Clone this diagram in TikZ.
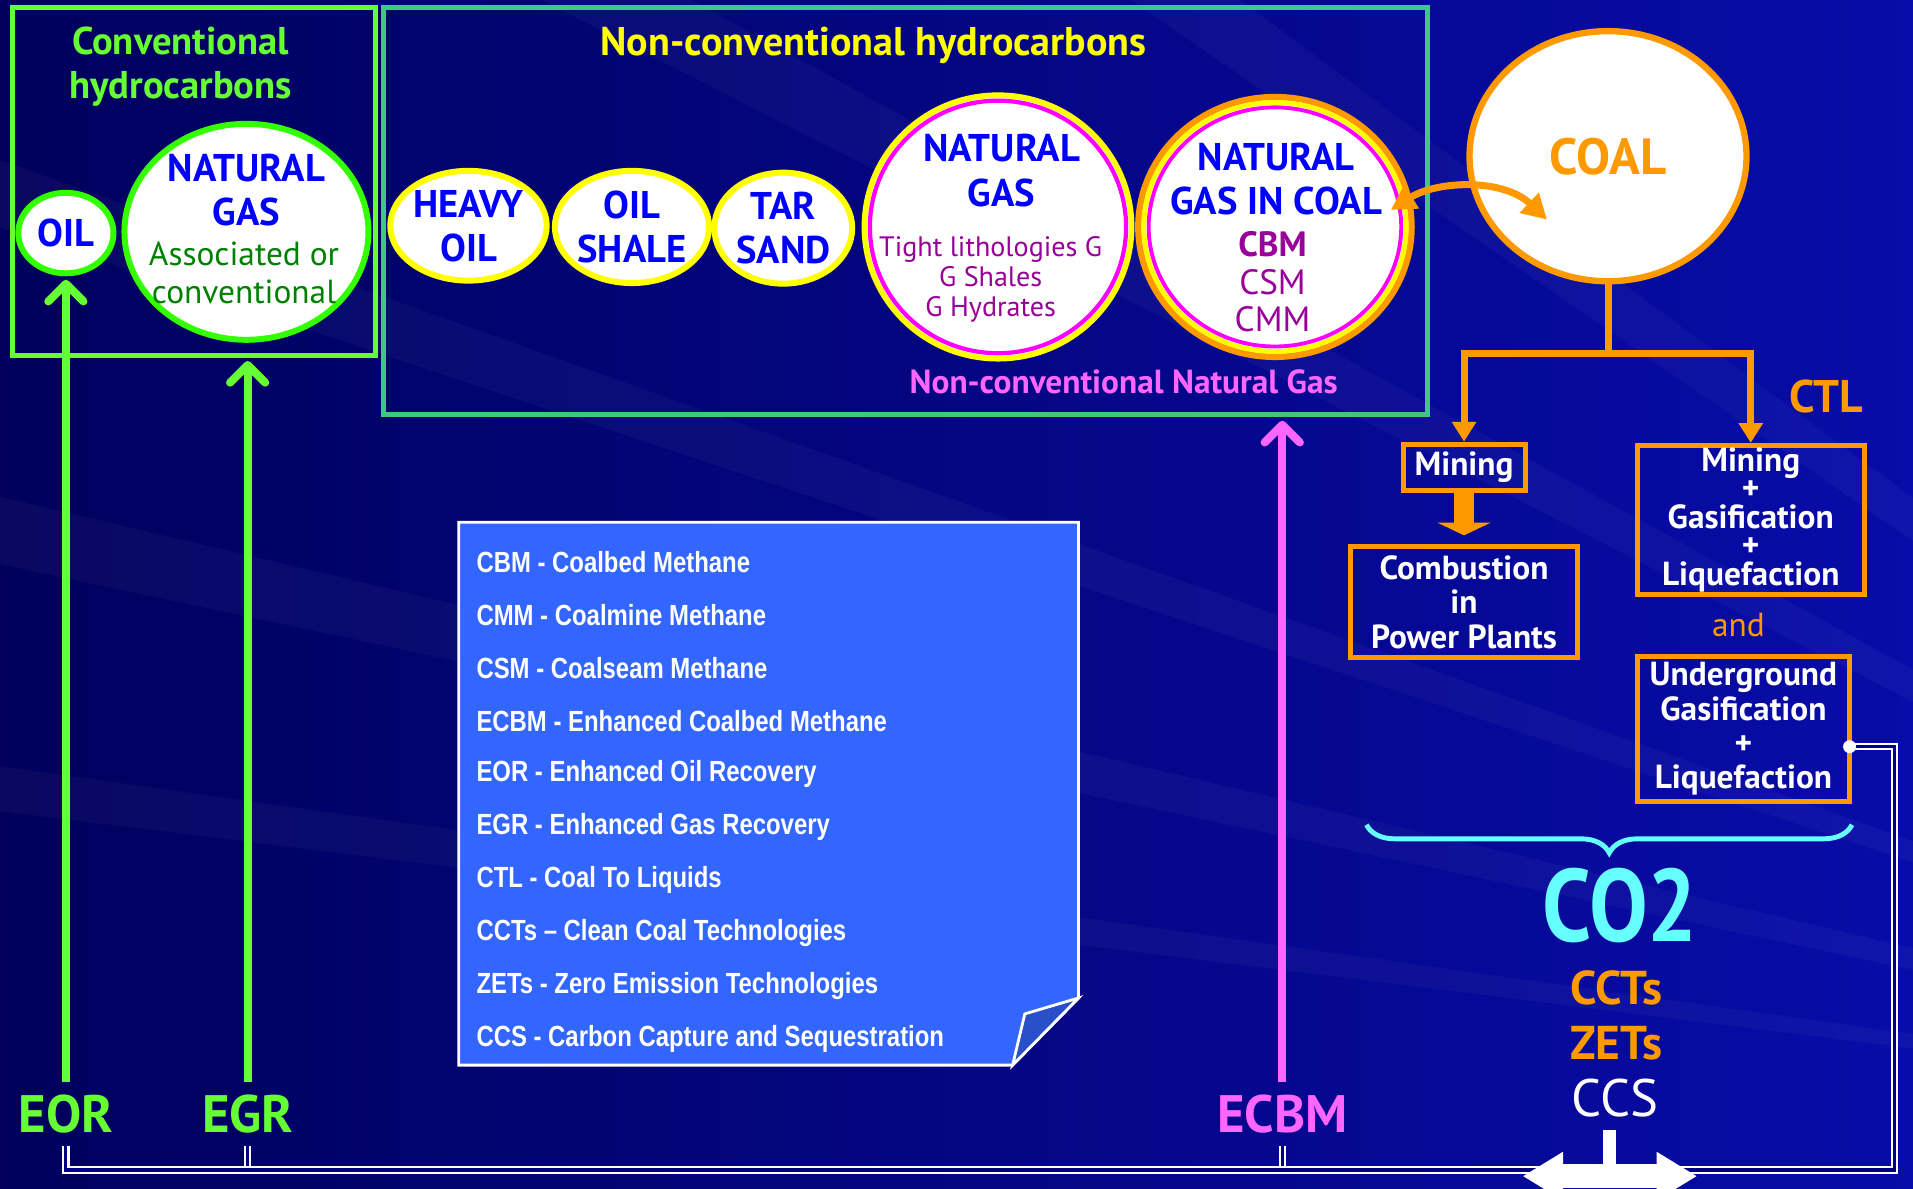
\documentclass[tikz,border=0pt]{standalone}
\usepackage{fontspec}
\setmainfont{PT Sans}
\newfontfamily\notefont{Liberation Sans}[FakeStretch=0.82]
\usepackage{tikz}
\usetikzlibrary{positioning,arrows.meta,shapes.geometric,decorations.pathreplacing}

\definecolor{bgdark}{RGB}{0,0,92}
\definecolor{bgmid}{RGB}{0,0,128}
\definecolor{bglight}{RGB}{8,12,168}
\definecolor{convgreen}{RGB}{102,255,51}
\definecolor{ringgreen}{RGB}{51,255,0}
\definecolor{boxgreen}{RGB}{64,200,128}
\definecolor{hcyellow}{RGB}{255,255,0}
\definecolor{hcblue}{RGB}{0,0,255}
\definecolor{gasgreen}{RGB}{0,128,0}
\definecolor{gaspurple}{RGB}{153,0,153}
\definecolor{ringpink}{RGB}{255,0,255}
\definecolor{ecbmpink}{RGB}{255,102,255}
\definecolor{coalorange}{RGB}{255,153,0}
\definecolor{co2cyan}{RGB}{102,255,255}
\definecolor{notefill}{RGB}{51,102,255}
\definecolor{notefold}{RGB}{40,80,200}

\def\px{*0.0122cm}

\begin{document}
\begin{tikzpicture}[x=0.0122cm, y=-0.0122cm,
  res/.style={ellipse, fill=white, inner sep=0pt, align=center},
  blob/.style={res, draw=hcyellow, line width=1.7pt, text=hcblue, font=\bfseries\fontsize{11}{12.5}\selectfont},
  heading/.style={align=center, font=\bfseries\fontsize{11}{12.5}\selectfont},
  bluetxt/.style={heading, text=hcblue},
  frame/.style={line width=1.4pt, inner sep=0pt},
  obox/.style={draw=coalorange, line width=1.4pt, inner sep=0pt, align=center, text=white, font=\bfseries\fontsize{9.5}{9.9}\selectfont},
  oline/.style={coalorange, line width=2pt},
  lift/.style={line width=2.3pt, -{Straight Barb[round, length=5pt, width=10pt]}, shorten >=1pt},
  tag/.style={font=\bfseries\fontsize{15}{18}\selectfont},
  link/.style={draw=white, line width=0.6pt, double=bgmid, double distance=0.9pt},
  notetxt/.style={anchor=west, inner sep=0pt, text=white, font=\notefont\bfseries\fontsize{8.3}{10}\selectfont}]

  \useasboundingbox (0,0) rectangle (1568,974);
  \shade[left color=bgdark, right color=bglight] (0,0) rectangle (1568,974);
  \foreach \ya/\yb in {-900/-780, -420/-330, 60/120, 360/420, 600/640} {
    \fill[white, opacity=0.035] (2300,950) -- (-200,\ya) -- (-200,\yb) -- cycle;
  }

  \def\blob#1#2#3#4#5{
    \node[blob, minimum width=#3\px, minimum height=#4\px] (#1) at (#2) {#5};
  }

  \node[frame, draw=convgreen, minimum width=298\px, minimum height=285\px] (conv) at (159,148.5) {};
  \node[frame, draw=boxgreen, minimum width=856\px, minimum height=334\px] (nc) at (742,173) {};

  \node[heading, text=convgreen] (convtitle) at (148,55) {Conventional\\hydrocarbons};
  \node[heading, text=hcyellow, font=\bfseries\fontsize{11.4}{13}\selectfont] (nctitle) at (716,37) {Non-conventional hydrocarbons};
  \node[text=ecbmpink, font=\bfseries\fontsize{9.5}{11}\selectfont] (ngtag) at (921,313) {Non-conventional Natural Gas};

  \node[res, draw=ringgreen, line width=1.7pt, text=hcblue, font=\bfseries\fontsize{11}{12.5}\selectfont,
    minimum width=78\px, minimum height=66\px] (oil) at (54,191) {OIL};
  \node[res, draw=ringgreen, line width=1.7pt, minimum width=200\px, minimum height=177\px] (cng) at (202,190) {};
  \node[bluetxt] (cngname) at (202,156) {NATURAL\\GAS};
  \node[align=center, text=gasgreen, font=\fontsize{9.5}{10.8}\selectfont] (cngsub) at (200,224) {Associated or\\conventional};

  \blob{heavy}{384,185}{126}{90}{HEAVY\\OIL}
  \blob{shale}{518,186}{113}{92}{OIL\\SHALE}
  \blob{tar}{642,187}{113}{91}{TAR\\SAND}

  \node[res, draw=hcyellow, line width=1.6pt, minimum width=219\px, minimum height=216\px] (ngnc) at (818,186) {};
  \draw[ringpink, line width=1.2pt] (ngnc.center) ellipse [x radius=105\px, y radius=103.5\px];
  \node[bluetxt, font=\bfseries\fontsize{11}{12.8}\selectfont] (ngncname) at (821,140) {NATURAL\\GAS};
  \node[align=center, text=gaspurple, font=\fontsize{8}{8.5}\selectfont] (ngncsub) at (812,229) {Tight lithologies G\\G Shales\\G Hydrates};

  \node[res, draw=coalorange, line width=1.8pt, minimum width=224\px, minimum height=213\px] (ngcoal) at (1045,186) {};
  \draw[hcyellow, line width=1.4pt] (ngcoal.center) ellipse [x radius=107.5\px, y radius=102\px];
  \draw[ringpink, line width=1.1pt] (ngcoal.center) ellipse [x radius=103.5\px, y radius=98\px];
  \node[bluetxt] (ngcoalname) at (1046,147) {NATURAL\\GAS IN COAL};
  \node[align=center, text=gaspurple, font=\fontsize{10}{10.6}\selectfont] (ngcoalsub) at (1043,231) {\textbf{CBM}\\CSM\\CMM};

  \node[res, draw=coalorange, line width=1.8pt, text=coalorange, font=\bfseries\fontsize{14.5}{16}\selectfont,
    minimum width=227\px, minimum height=205\px] (coal) at (1318,128) {COAL};

  \coordinate (gasend) at (1140,172);
  \coordinate (coalend) at (1268,180);
  \draw[oline, {Triangle[length=7pt,width=7.5pt]}-{Triangle[length=7pt,width=7.5pt]}]
    (gasend) .. controls (1178,148) and (1232,146) .. (coalend);

  \node[obox, minimum width=100\px, minimum height=38\px] (mining) at (1200,383) {Mining};
  \node[obox, minimum width=186\px, minimum height=91\px] (burn) at (1200,493.5) {Combustion\\in\\Power Plants};
  \node[obox, font=\bfseries\fontsize{9.5}{8.1}\selectfont, minimum width=186\px, minimum height=122\px] (ctl) at (1435,426)
    {Mining\\+\\Gasification\\+\\Liquefaction};
  \node[obox, font=\bfseries\fontsize{9.5}{9.8}\selectfont, minimum width=174\px, minimum height=119\px] (ug) at (1429,597.5)
    {Underground\\Gasification\\+\\Liquefaction};
  \node[text=coalorange, font=\fontsize{9.5}{11}\selectfont] (and) at (1425,512) {and};
  \node[text=coalorange, font=\bfseries\fontsize{13}{15}\selectfont] (ctltag) at (1497,325) {CTL};

  \coordinate (split) at (1318,290);
  \draw[oline] (coal.south) -- (split);
  \draw[oline, -{Triangle[length=5.6pt,width=6.6pt]}] (split) -| (mining.north);
  \draw[oline, -{Triangle[length=5.6pt,width=6.6pt]}] (split) -| (ctl.north);
  \draw[coalorange, line width=5.5pt, -{Triangle[length=3.6pt,width=15pt]}, shorten >=2.5pt] (mining.south) -- (burn.north);

  \draw[co2cyan, line width=1.4pt, decorate, decoration={brace, mirror, amplitude=8pt}] (1120,676) -- (1518,676);
  \node[inner sep=0pt, text=co2cyan, font=\bfseries\fontsize{25}{25}\selectfont] (co2) at (1328,742.5) {\scalebox{1}[1.17]{CO2}};
  \node[text=coalorange, font=\bfseries\fontsize{13.5}{15}\selectfont] (ccts) at (1325,810) {CCTs};
  \node[text=coalorange, font=\bfseries\fontsize{13.5}{15}\selectfont] (zets) at (1325,855) {ZETs};
  \node[text=white, font=\fontsize{15}{18}\selectfont] (ccs) at (1324,900) {CCS};

  \node[tag, text=convgreen] (eor) at (54,913) {EOR};
  \node[tag, text=convgreen] (egr) at (203,913) {EGR};
  \node[tag, text=ecbmpink] (ecbm) at (1051,913) {ECBM};

  \draw[lift, convgreen] (eor.north) -- (oil.south);
  \draw[lift, convgreen] (egr.north) -- (egr.north |- conv.south);
  \draw[lift, ecbmpink] (ecbm.north) -- (ecbm.north |- nc.south);

  \draw[white, line width=0.8pt, fill=notefill] (376,428) -- (884,428) -- (884,818) -- (830,873) -- (376,873) -- cycle;
  \draw[white, line width=0.8pt, fill=notefold] (884,818) -- (840,831) -- (830,873) -- cycle;
  \foreach \t [count=\i from 0] in {CBM - Coalbed Methane, CMM - Coalmine Methane, CSM - Coalseam Methane,
      ECBM - Enhanced Coalbed Methane, EOR - Enhanced Oil Recovery, EGR - Enhanced Gas Recovery,
      CTL - Coal To Liquids, CCTs – Clean Coal Technologies, ZETs - Zero Emission Technologies,
      CCS - Carbon Capture and Sequestration} {
    \node[notetxt] (note\i) at (390,461+43.4*\i) {\t};
  }

  \coordinate (rcorner) at (1553,959);
  \coordinate (tap) at (1516,612);
  \foreach \n in {egr,ecbm} {
    \draw[link] (\n.south) -- (\n.south |- rcorner);
  }
  \draw[link] (eor.south) |- (rcorner) |- (tap);
  \fill[white] (tap) circle [radius=0.065cm];

  \coordinate (ccsbase) at (1319,964);
  \coordinate (ccsl) at (1248,964);
  \coordinate (ccsr) at (1391,964);
  \draw[white, line width=3.7pt] (ccsbase |- ccs.south) -- (ccsbase);
  \draw[white, line width=7pt, {Triangle[length=11.5pt,width=13pt]}-{Triangle[length=11.5pt,width=13pt]}] (ccsl) -- (ccsr);
\end{tikzpicture}
\end{document}
